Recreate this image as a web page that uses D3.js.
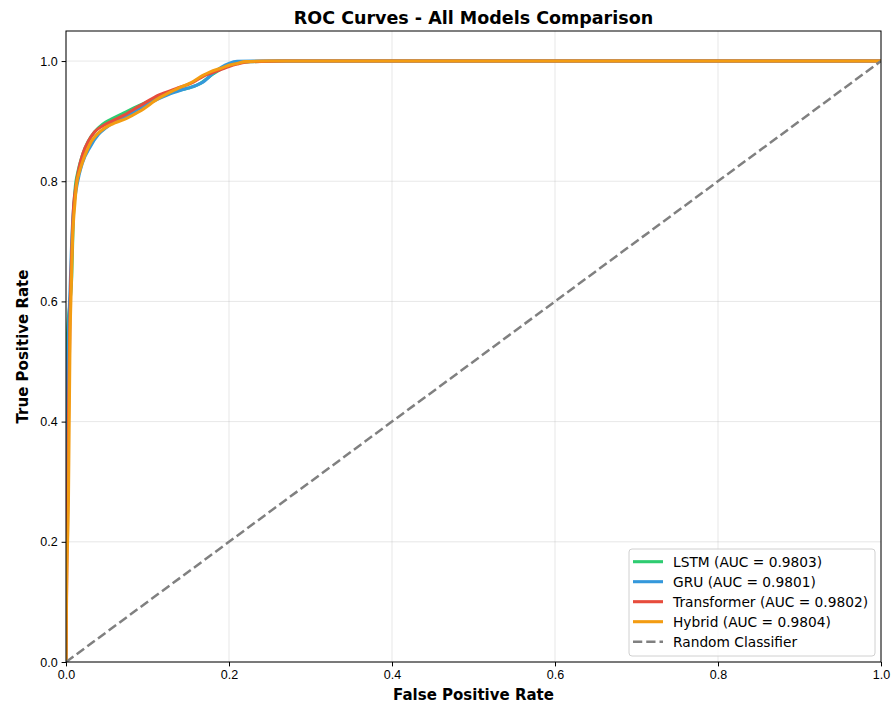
<!DOCTYPE html>
<html>
<head>
<meta charset="utf-8">
<script src="https://cdn.jsdelivr.net/npm/d3@7"></script>
<style>
  body { margin: 0; background: #fff; }
  svg { display: block; font-family: "DejaVu Sans", sans-serif; }
</style>
</head>
<body>
<div class="roc"></div>
<script>
// ROC points
const lstmFpr = [0, 0.0005, 0.001, 0.002, 0.005, 0.007, 0.009, 0.011, 0.015, 0.02, 0.027, 0.035, 0.045, 0.055, 0.07, 0.09, 0.11, 0.13, 0.15, 0.165, 0.18, 0.195, 0.21, 0.23, 0.26, 1]
const lstmTpr = [0, 0.3, 0.5, 0.55, 0.6, 0.64, 0.74, 0.785, 0.818, 0.843, 0.866, 0.882, 0.895, 0.903, 0.913, 0.926, 0.938, 0.948, 0.955, 0.963, 0.978, 0.99, 0.997, 0.999, 1, 1]

const gruFpr = [0, 0.0005, 0.001, 0.003, 0.005, 0.007, 0.009, 0.012, 0.016, 0.02, 0.03, 0.04, 0.05, 0.06, 0.075, 0.09, 0.11, 0.125, 0.14, 0.155, 0.17, 0.18, 0.19, 0.2, 0.21, 0.23, 0.26, 1]
const gruTpr = [0, 0.25, 0.42, 0.55, 0.62, 0.7, 0.75, 0.782, 0.81, 0.83, 0.858, 0.878, 0.89, 0.899, 0.909, 0.921, 0.935, 0.944, 0.951, 0.957, 0.967, 0.979, 0.989, 0.996, 0.9995, 1, 1, 1]

const transFpr = [0, 0.001, 0.0016, 0.002, 0.003, 0.005, 0.007, 0.009, 0.012, 0.016, 0.021, 0.028, 0.035, 0.045, 0.055, 0.07, 0.09, 0.115, 0.135, 0.155, 0.17, 0.18, 0.19, 0.2, 0.21, 0.22, 0.24, 0.27, 1]
const transTpr = [0, 0.16, 0.22, 0.27, 0.4, 0.58, 0.68, 0.75, 0.79, 0.822, 0.847, 0.868, 0.882, 0.892, 0.899, 0.909, 0.925, 0.944, 0.954, 0.964, 0.976, 0.981, 0.986, 0.991, 0.995, 0.998, 0.9995, 1, 1]

const hybridFpr = [0, 0.0005, 0.003, 0.005, 0.006, 0.008, 0.011, 0.013, 0.017, 0.021, 0.026, 0.031, 0.038, 0.045, 0.052, 0.06, 0.075, 0.09, 0.115, 0.135, 0.156, 0.168, 0.177, 0.19, 0.2, 0.21, 0.22, 0.25, 1]
const hybridTpr = [0, 0.1, 0.27, 0.547, 0.602, 0.702, 0.765, 0.795, 0.818, 0.835, 0.852, 0.866, 0.878, 0.886, 0.892, 0.897, 0.905, 0.916, 0.939, 0.953, 0.966, 0.976, 0.982, 0.988, 0.993, 0.996, 0.999, 1, 1]

const modelNames = ["LSTM", "GRU", "Transformer", "Hybrid"]
const aucValues = [0.9803, 0.9801, 0.9802, 0.9804]
const colors = ["#2ecc71", "#3498db", "#e74c3c", "#f39c12"]
const fprData = [lstmFpr, gruFpr, transFpr, hybridFpr]
const tprData = [lstmTpr, gruTpr, transTpr, hybridTpr]
const tickValues = [0, 0.2, 0.4, 0.6, 0.8, 1.0]

const margin = {top: 31, right: 15, bottom: 44, left: 66}
const width = 896 - margin.left - margin.right
const height = 706 - margin.top - margin.bottom

const svg0 = d3.select(".roc").append("svg")
  .attr("width", 896)
  .attr("height", 706)

const svg = svg0.append("g")
  .attr("transform", "translate(" + margin.left + "," + margin.top + ")")

const x = d3.scaleLinear().domain([0, 1]).range([0, width])
const y = d3.scaleLinear().domain([0, 1.05]).range([height, 0])

svg.append("defs").append("clipPath").attr("id", "clip")
  .append("rect").attr("width", width).attr("height", height)

// grid
svg.append("g").selectAll("line.vx").data(tickValues).enter().append("line")
  .attr("x1", d => x(d)).attr("x2", d => x(d))
  .attr("y1", 0).attr("y2", height)
  .attr("stroke", "#b0b0b0").attr("stroke-opacity", 0.3).attr("stroke-width", 1)
svg.append("g").selectAll("line.hy").data(tickValues).enter().append("line")
  .attr("x1", 0).attr("x2", width)
  .attr("y1", d => y(d)).attr("y2", d => y(d))
  .attr("stroke", "#b0b0b0").attr("stroke-opacity", 0.3).attr("stroke-width", 1)

const plot = svg.append("g").attr("clip-path", "url(#clip)")

const line = d3.line()
  .x(d => x(d[0]))
  .y(d => y(d[1]))
  .curve(d3.curveMonotoneX)

modelNames.forEach(function(name, i) {
  const pts = fprData[i].map((f, j) => [f, tprData[i][j]])
  plot.append("path")
    .datum(pts)
    .attr("fill", "none")
    .attr("stroke", colors[i])
    .attr("stroke-width", 3.1)
    .attr("stroke-linejoin", "round")
    .attr("stroke-linecap", "square")
    .attr("d", line)
})

// random classifier
plot.append("path")
  .datum([[0, 0], [1, 1]])
  .attr("fill", "none")
  .attr("stroke", "#808080")
  .attr("stroke-width", 2.5)
  .attr("stroke-dasharray", "9.25,4")
  .attr("d", d3.line().x(d => x(d[0])).y(d => y(d[1])))

// axes
const xAxis = d3.axisBottom(x).tickValues(tickValues).tickFormat(d3.format(".1f")).tickSize(4.4).tickPadding(4)
const yAxis = d3.axisLeft(y).tickValues(tickValues).tickFormat(d3.format(".1f")).tickSize(4.4).tickPadding(4)

svg.append("g")
  .attr("transform", "translate(0," + height + ")")
  .call(xAxis)
  .call(g => g.select(".domain").remove())
  .selectAll("text").style("font-size", "12.5px").attr("fill", "#000")

svg.append("g")
  .call(yAxis)
  .call(g => g.select(".domain").remove())
  .selectAll("text").style("font-size", "12.5px").attr("fill", "#000")

svg.append("rect")
  .attr("width", width).attr("height", height)
  .attr("fill", "none").attr("stroke", "#000").attr("stroke-width", 1)

// labels
svg0.append("text")
  .attr("x", margin.left + width / 2).attr("y", 23.5)
  .attr("text-anchor", "middle")
  .style("font-size", "17.5px").style("font-weight", "bold")
  .text("ROC Curves - All Models Comparison")

svg0.append("text")
  .attr("x", margin.left + width / 2).attr("y", 700)
  .attr("text-anchor", "middle")
  .style("font-size", "15px").style("font-weight", "bold")
  .text("False Positive Rate")

svg0.append("text")
  .attr("transform", "translate(28," + (margin.top + height / 2) + ") rotate(-90)")
  .attr("text-anchor", "middle")
  .style("font-size", "15px").style("font-weight", "bold")
  .text("True Positive Rate")

// legend
const legendItems = modelNames.map((n, i) => ({label: n + " (AUC = " + aucValues[i].toFixed(4) + ")", color: colors[i], dash: null}))
legendItems.push({label: "Random Classifier", color: "#808080", dash: "9.25,4"})

const lg = svg0.append("g").attr("transform", "translate(629,549)")
lg.append("rect")
  .attr("width", 246).attr("height", 107)
  .attr("rx", 3)
  .attr("fill", "#fff").attr("fill-opacity", 0.8)
  .attr("stroke", "#d0d0d0").attr("stroke-width", 1)

const rows = lg.selectAll("g.row").data(legendItems).enter().append("g")
  .attr("transform", (d, i) => "translate(0," + (12.7 + i * 20) + ")")

rows.append("line")
  .attr("x1", 4).attr("x2", 34)
  .attr("stroke", d => d.color)
  .attr("stroke-width", d => d.dash ? 2.5 : 3.1)
  .attr("stroke-dasharray", d => d.dash)

rows.append("text")
  .attr("x", 44).attr("dy", "0.35em")
  .style("font-size", "13.75px")
  .text(d => d.label)
</script>
</body>
</html>
